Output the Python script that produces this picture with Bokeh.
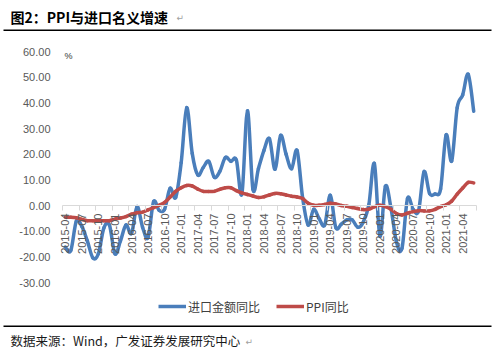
import math
import pandas as pd
from bokeh.plotting import figure
from bokeh.models import (Range1d, FixedTicker, NumeralTickFormatter, Label, Legend,
                          LegendItem, BoxAnnotation, ColumnDataSource)
from bokeh.embed import file_html
from bokeh.resources import INLINE

# ---------------- data ----------------
months = [str(m) for m in pd.period_range("2015-04", "2021-06", freq="M")]

import_yoy = [
    -16.2, -17.6, -6.1, -8.1, -13.8, -20.4, -18.8, -8.7, -7.6,                 # 2015-04..12
    -18.8, -13.8, -7.6, -10.9, -0.4, -8.4, -12.5, 1.5, -1.9, -1.4, 6.7, 3.1,   # 2016
    16.7, 38.1, 20.3, 11.9, 14.8, 17.2, 11.0, 13.3, 18.7, 17.2, 17.7, 4.5,     # 2017
    36.9, 6.3, 14.4, 21.5, 26.0, 14.1, 27.3, 20.0, 14.3, 21.4, 3.0, -7.6,      # 2018
    -1.5, -5.2, -7.6, 4.0, -8.5, -7.3, -5.6, -5.6, -8.5, -6.4, 0.3, 16.3,      # 2019
    -12.0, 7.5, -0.9, -14.2, -16.7, 2.7, -1.4, -2.1, 13.2, 4.7, 4.5, 6.5,      # 2020
    27.5, 17.3, 38.1, 43.1, 51.1, 36.7,                                        # 2021-01..06
]

ppi_yoy = [
    -4.6, -4.6, -4.8, -5.4, -5.9, -5.9, -5.9, -5.9, -5.9,
    -5.3, -4.9, -4.3, -3.4, -2.8, -2.6, -1.7, -0.8, 0.1, 1.2, 3.3, 5.5,
    6.9, 7.8, 7.6, 6.4, 5.5, 5.5, 5.5, 6.3, 6.9, 6.9, 5.8, 4.9,
    4.3, 3.7, 3.1, 3.4, 4.1, 4.7, 4.6, 4.1, 3.6, 3.3, 2.7, 0.9,
    0.1, 0.1, 0.4, 0.9, 0.6, 0.0, -0.3, -0.8, -1.2, -1.6, -1.4, -0.5,
    0.1, -0.4, -1.5, -3.1, -3.7, -3.0, -2.4, -2.0, -2.1, -2.1, -1.5, -0.4,
    0.3, 1.7, 4.4, 6.8, 9.0, 8.8,
]

y_ticks = [-30, -20, -10, 0, 10, 20, 30, 40, 50, 60]
x_tick_idx = list(range(0, len(months), 3))
x_tick_labels = [months[i] for i in x_tick_idx]

series_names = ["进口金额同比", "PPI同比"]
series_colors = ["#4A7EBB", "#BE4B48"]

title_text = "图2：PPI与进口名义增速"
source_text = "数据来源：Wind，广发证券发展研究中心"

# ---------------- layout (pixels) ----------------
W, H = 494, 351
PL, PT, PR, PB = 62, 51, 476, 282      # data area edges on the canvas
YMIN, YMAX = -30, 60
XMIN, XMAX = -0.5, len(months) - 0.5

kx = (PR - PL) / (XMAX - XMIN)
ky = (PB - PT) / (YMAX - YMIN)
x_range = Range1d(XMIN - PL / kx, XMAX + (W - PR) / kx)
y_range = Range1d(YMIN - (H - PB) / ky, YMAX + PT / ky)

p = figure(width=W, height=H, output_backend="svg", toolbar_location=None,
           x_range=x_range, y_range=y_range, min_border=0)
p.outline_line_color = None
p.xgrid.visible = False
p.ygrid.visible = False
p.background_fill_color = "white"
p.border_fill_color = "white"

# y axis, fixed at the left edge of the data area
ya = p.yaxis[0]
ya.fixed_location = XMIN
ya.bounds = (YMIN, YMAX)
ya.ticker = FixedTicker(ticks=y_ticks)
ya.formatter = NumeralTickFormatter(format="0.00")
ya.axis_line_color = None
ya.major_tick_line_color = None
ya.minor_tick_line_color = None
ya.major_tick_in = 0
ya.major_tick_out = 0
ya.minor_tick_in = 0
ya.minor_tick_out = 0
ya.major_label_standoff = 12
ya.major_label_text_font = "Liberation Sans"
ya.major_label_text_font_size = "11px"
ya.major_label_text_color = "#595959"

# x axis crossing at y = 0
xa = p.xaxis[0]
xa.fixed_location = 0
xa.bounds = (XMIN, XMAX)
xa.ticker = FixedTicker(ticks=x_tick_idx,
                        minor_ticks=[i - 0.5 for i in range(0, len(months) + 1, 3)])
xa.major_label_overrides = {i: lab for i, lab in zip(x_tick_idx, x_tick_labels)}
xa.major_label_orientation = math.pi / 2
xa.axis_line_color = "#D9D9D9"
xa.major_tick_in = 0
xa.major_tick_out = 0
xa.major_tick_line_color = None
xa.minor_tick_in = 0
xa.minor_tick_out = 5
xa.minor_tick_line_color = "#D9D9D9"
xa.major_label_standoff = 3
xa.major_label_text_font = "Liberation Sans"
xa.major_label_text_font_size = "11px"
xa.major_label_text_color = "#595959"


def smooth_source(xs, ys):
    """Cubic Bezier pieces through the data points (Excel-style smoothing)."""
    n = len(xs)
    d = dict(x0=[], y0=[], x1=[], y1=[], cx0=[], cy0=[], cx1=[], cy1=[])
    for i in range(n - 1):
        a = i - 1 if i > 0 else i
        b = i + 2 if i + 2 < n else i + 1
        d["x0"].append(xs[i]); d["y0"].append(ys[i])
        d["x1"].append(xs[i + 1]); d["y1"].append(ys[i + 1])
        d["cx0"].append(xs[i] + (xs[i + 1] - xs[a]) / 6.0)
        d["cy0"].append(ys[i] + (ys[i + 1] - ys[a]) / 6.0)
        d["cx1"].append(xs[i + 1] - (xs[b] - xs[i]) / 6.0)
        d["cy1"].append(ys[i + 1] - (ys[b] - ys[i]) / 6.0)
    return ColumnDataSource(d)


xs = list(range(len(months)))
items = []
for name, vals, col in zip(series_names, [import_yoy, ppi_yoy], series_colors):
    src = smooth_source(xs, vals)
    p.bezier(x0="x0", y0="y0", x1="x1", y1="y1", cx0="cx0", cy0="cy0",
             cx1="cx1", cy1="cy1", source=src, line_color=col, line_width=3.5,
             line_cap="round", line_join="round")
    # legend swatch only (a single undrawable point)
    swatch = p.line(x=[math.nan], y=[math.nan], line_color=col, line_width=3.5)
    items.append(LegendItem(label=name, renderers=[swatch]))


# helper: canvas (left, top) -> screen units (from bottom-left)
def sx(cx):
    return cx


def sy(cy):
    return H - cy


legend = Legend(items=items, orientation="horizontal", location=(sx(158), sy(316)),
                glyph_width=28, glyph_height=20, label_standoff=2, spacing=16,
                padding=0, margin=0, border_line_color=None,
                background_fill_alpha=0, label_text_font="Noto Sans CJK SC",
                label_text_font_size="12px", label_text_color="#404040")
p.add_layout(legend)

# texts
p.add_layout(Label(x=sx(10), y=sy(16), x_units="screen", y_units="screen",
                   text=title_text, text_font="Noto Sans CJK SC",
                   text_font_style="bold", text_font_size="14px",
                   text_color="#000000", text_baseline="middle"))
p.add_layout(Label(x=sx(176), y=sy(17), x_units="screen", y_units="screen",
                   text="↵", text_font="DejaVu Sans", text_font_size="9px",
                   text_color="#A0A0A0", text_baseline="middle"))
p.add_layout(Label(x=sx(64), y=sy(55), x_units="screen", y_units="screen",
                   text="%", text_font="Liberation Sans", text_font_size="9px",
                   text_color="#333333", text_baseline="middle"))
p.add_layout(Label(x=sx(10), y=sy(340), x_units="screen", y_units="screen",
                   text=source_text, text_font="Noto Sans CJK SC",
                   text_font_size="12.5px", text_color="#1A1A1A",
                   text_baseline="middle"))
p.add_layout(Label(x=sx(245), y=sy(341), x_units="screen", y_units="screen",
                   text="↵", text_font="DejaVu Sans", text_font_size="9px",
                   text_color="#A0A0A0", text_baseline="middle"))

# horizontal rules
for top in (29, 325):
    p.add_layout(BoxAnnotation(left=sx(3), right=sx(491), top=sy(top), bottom=sy(top + 1.5),
                               left_units="screen", right_units="screen",
                               top_units="screen", bottom_units="screen",
                               fill_color="#000000", fill_alpha=1.0,
                               line_color=None))

open("out.html", "w").write(file_html(p, INLINE))
